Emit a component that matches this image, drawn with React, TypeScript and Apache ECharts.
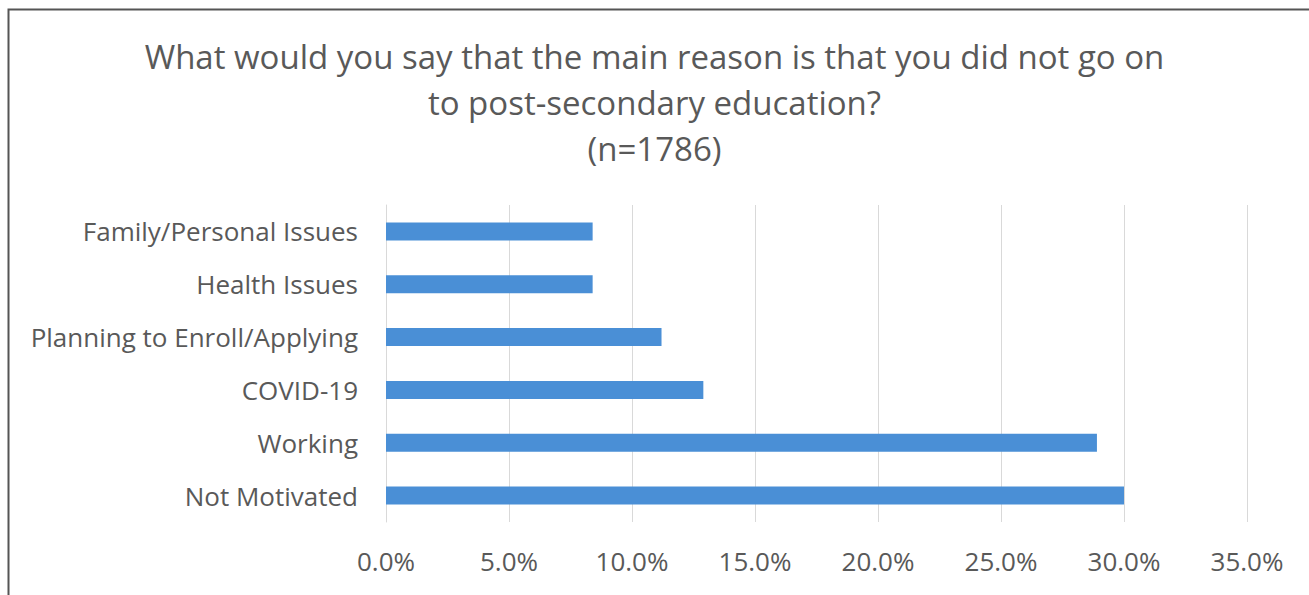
import React, { useEffect, useRef } from "react";
import * as echarts from "echarts";

const titleLines = [
  "What would you say that the main reason is that you did not go on",
  "to post-secondary education?",
  "(n=1786)",
];
const categories = [
  "Not Motivated",
  "Working",
  "COVID-19",
  "Planning to Enroll/Applying",
  "Health Issues",
  "Family/Personal Issues",
];
const values = [30.0, 28.9, 12.9, 11.2, 8.4, 8.4];
const axisMax = 35;
const axisInterval = 5;

export default function App() {
  const ref = useRef<HTMLDivElement>(null);
  useEffect(() => {
    if (!ref.current) return;
    const chart = echarts.init(ref.current, null, { renderer: "svg" });
    const font = "Open Sans";
    chart.setOption({
      animation: false,
      backgroundColor: "#ffffff",
      title: {
        text: titleLines.join("\n"),
        left: "center",
        top: 28,
        textStyle: {
          fontFamily: font,
          fontSize: 33,
          fontWeight: "normal",
          color: "#595959",
          lineHeight: 46,
        },
      },
      graphic: [
        {
          type: "rect",
          shape: { x: 8.5, y: 9.5, width: 1320, height: 600 },
          style: { fill: "none", stroke: "#555555", lineWidth: 2 },
          silent: true,
        },
      ],
      grid: { left: 386, right: 62, top: 205, bottom: 73 },
      xAxis: {
        type: "value",
        min: 0,
        max: axisMax,
        interval: axisInterval,
        axisLine: { show: false },
        axisTick: { show: false },
        splitLine: { lineStyle: { color: "#d9d9d9", width: 1 } },
        axisLabel: {
          formatter: (v: number) => v.toFixed(1) + "%",
          fontFamily: font,
          fontSize: 26,
          color: "#595959",
          margin: 26,
        },
      },
      yAxis: {
        type: "category",
        data: categories,
        axisLine: { show: true, lineStyle: { color: "#d9d9d9" } },
        axisTick: { show: false },
        axisLabel: {
          fontFamily: font,
          fontSize: 26,
          color: "#595959",
          margin: 28,
        },
      },
      series: [
        {
          type: "bar",
          data: values,
          barWidth: 18,
          itemStyle: { color: "#4a8fd6" },
        },
      ],
    });
    return () => chart.dispose();
  }, []);
  return (
    <div
      ref={ref}
      style={{ position: "fixed", left: 0, top: 0, width: 1309, height: 595 }}
    />
  );
}
